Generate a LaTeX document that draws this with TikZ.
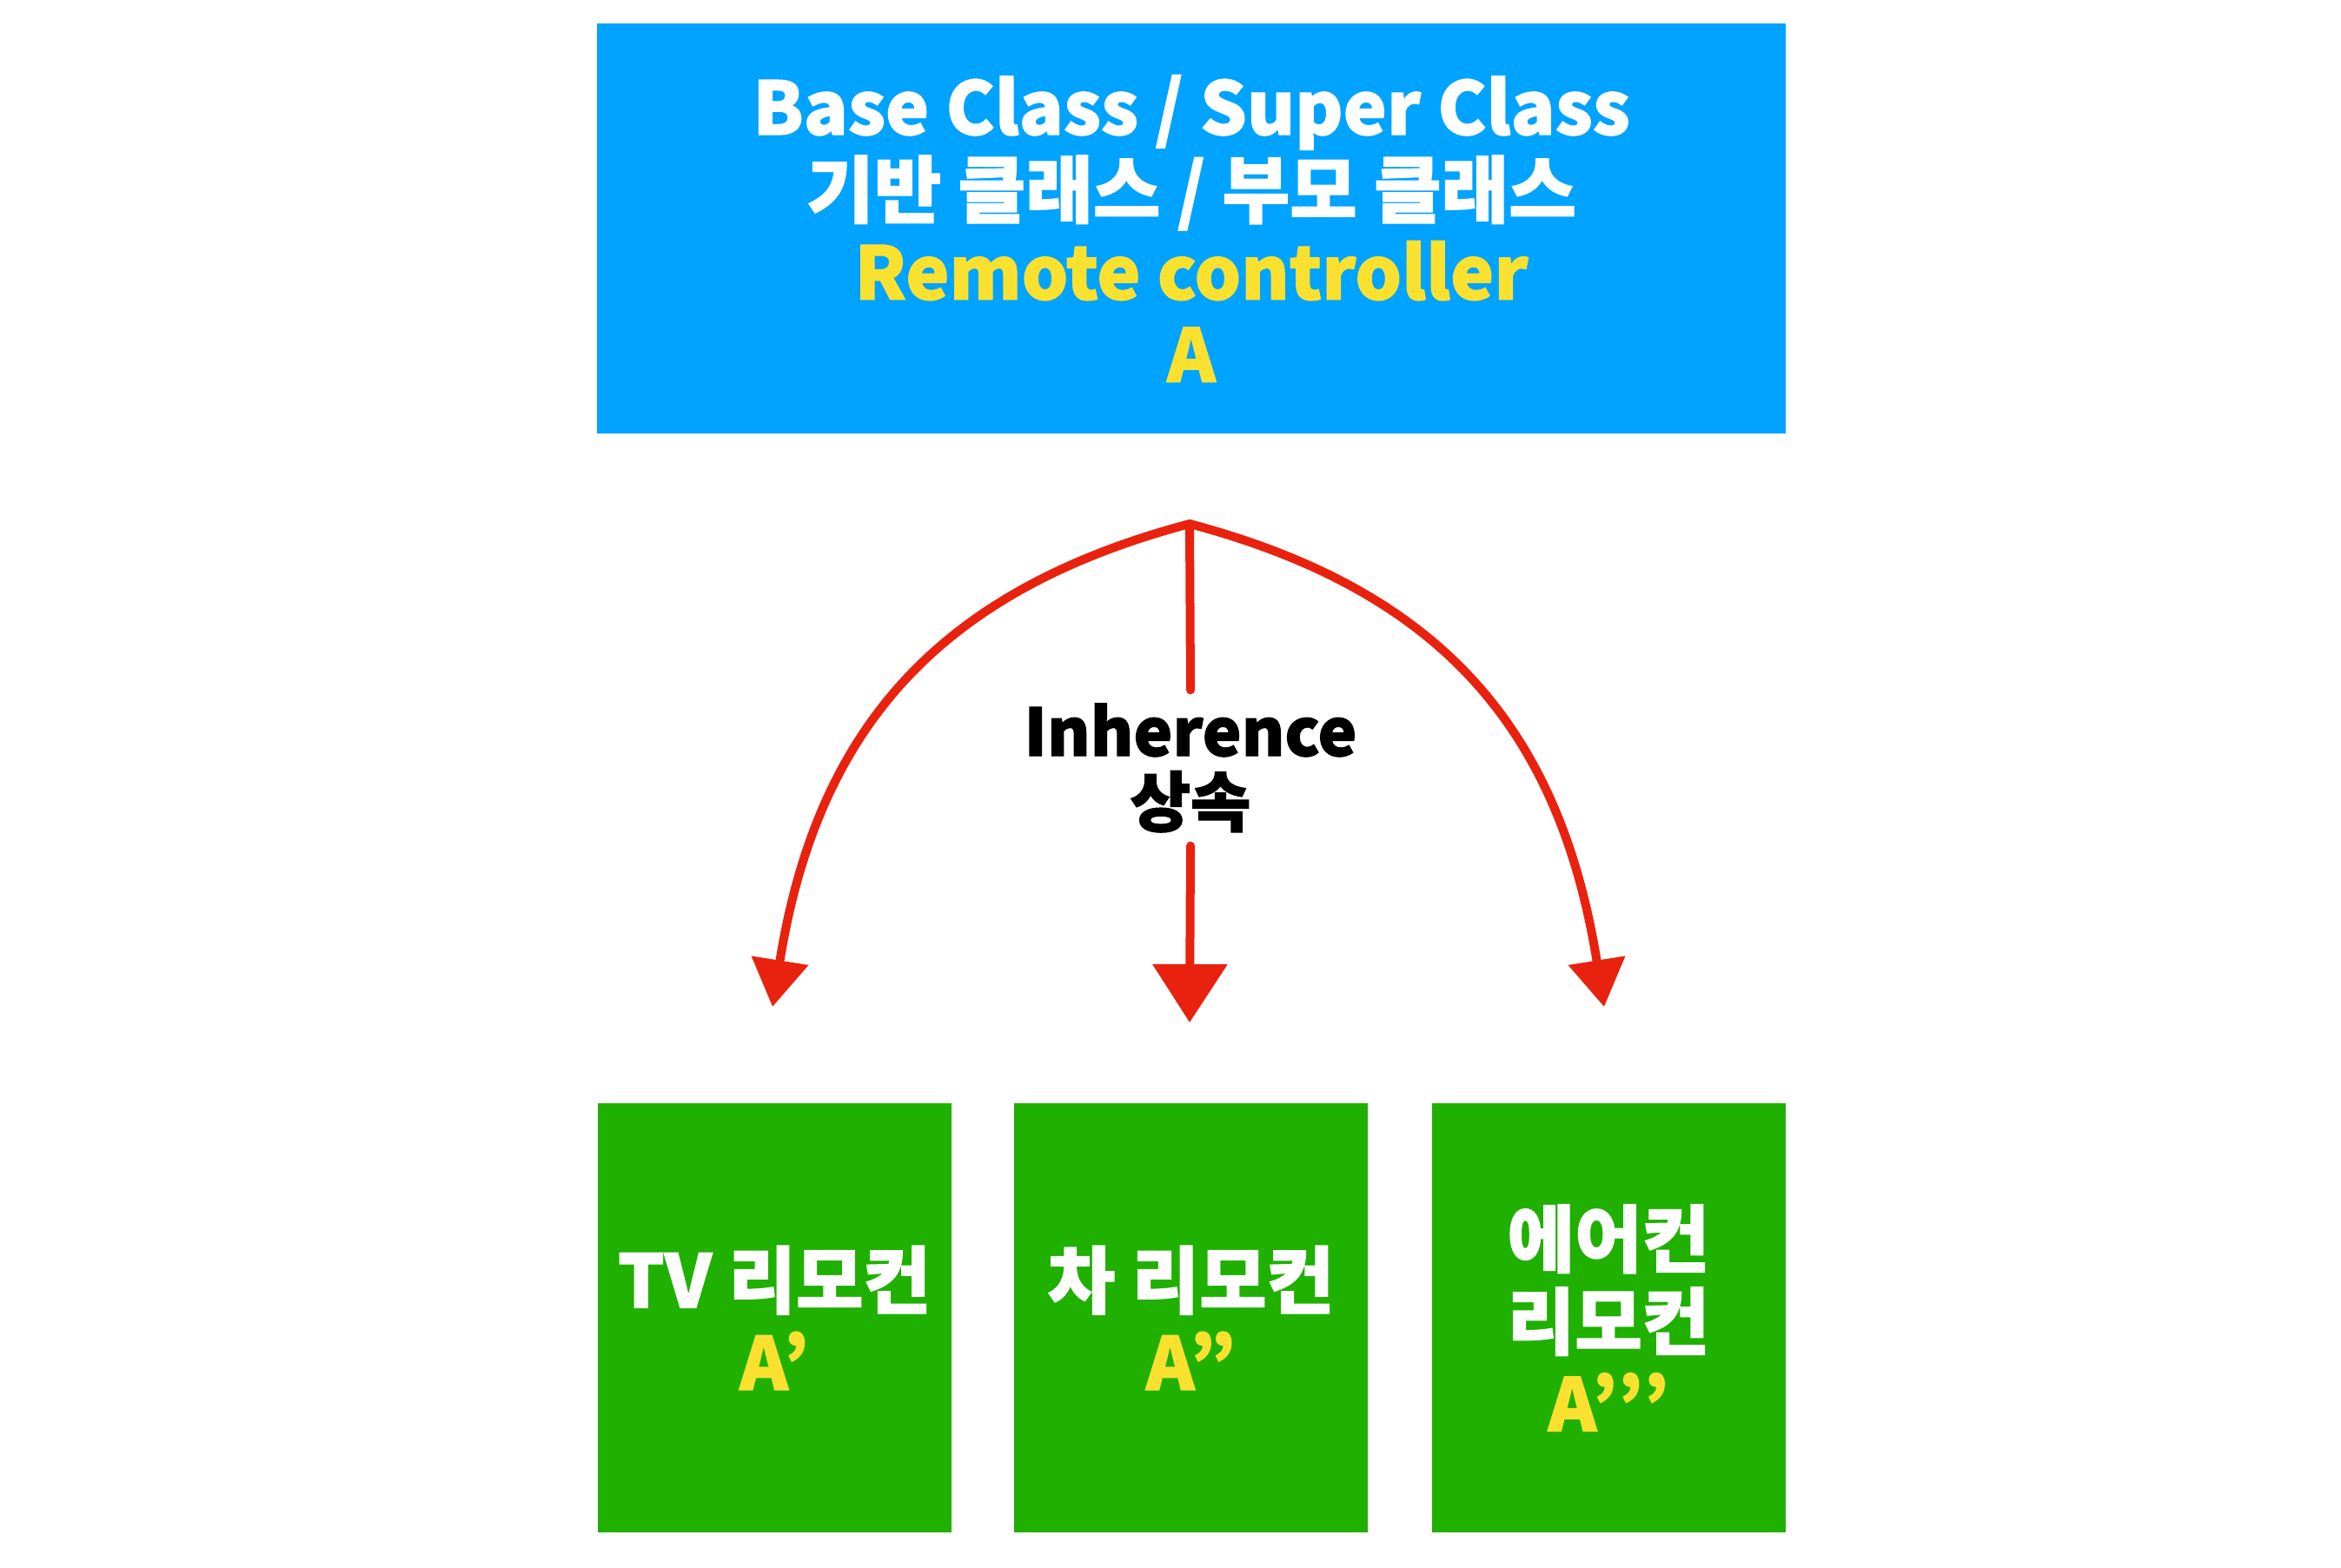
\documentclass[tikz,border=0pt]{standalone}
\usepackage{fontspec}
\setmainfont{Noto Sans CJK KR}[BoldFeatures={FakeBold=1.5}]
\usetikzlibrary{arrows.meta}
\definecolor{baseblue}{HTML}{00A3FF}
\definecolor{childgreen}{HTML}{1FB000}
\definecolor{markyellow}{HTML}{FBE12F}
\definecolor{crayonred}{HTML}{E8220E}
\begin{document}
\begin{tikzpicture}[
    classbox/.style={inner sep=0pt, align=center, text=white,
      font=\fontsize{24pt}{27pt}\selectfont\bfseries},
    basebox/.style={classbox, fill=baseblue, minimum width=13.68cm, minimum height=4.72cm},
    childbox/.style={classbox, fill=childgreen, minimum width=4.07cm, minimum height=4.94cm},
    inherit/.style={crayonred, line width=0.1cm, line cap=round},
    inherittip/.style={inherit, -{Triangle[length=5.4mm, width=6.4mm]}}
  ]
	\useasboundingbox (0,0) rectangle (26.94,-18.04);

	\node[basebox] (base) at (13.71,-2.63) {Base Class / Super Class\\ 기반 클래스 / 부모 클래스\\ \textcolor{markyellow}{Remote controller}\\ \textcolor{markyellow}{A}};

	\node[childbox] (tv) at (8.91,-15.17) {TV 리모컨\\ \textcolor{markyellow}{A’}};
	\node[childbox] (car) at (13.705,-15.17) {차 리모컨\\ \textcolor{markyellow}{A”}};
	\node[childbox] (aircon) at (18.51,-15.17) {에어컨\\ 리모컨\\ \textcolor{markyellow}{A’’’}};

	\coordinate (top) at (13.69,-6.03);
	\coordinate (tipL) at (8.89,-11.59);
	\coordinate (tipM) at (13.69,-11.77);
	\coordinate (tipR) at (18.46,-11.59);

	\node[align=center, inner sep=0pt, minimum height=1.78cm, font=\fontsize{21.5pt}{23pt}\selectfont\bfseries] (inh) at (13.70,-8.84) {Inherence\\ 상속};

	\draw[inherittip] (top) .. controls (10.79,-6.80) and (9.40,-8.40) .. (tipL);
	\draw[inherittip] (top) .. controls (16.59,-6.80) and (17.95,-8.40) .. (tipR);
	\draw[inherit] (top) -- (inh.north);
	\draw[inherit, -{Triangle[length=6.7mm, width=8.4mm]}] (inh.south) -- (tipM);
\end{tikzpicture}
\end{document}
